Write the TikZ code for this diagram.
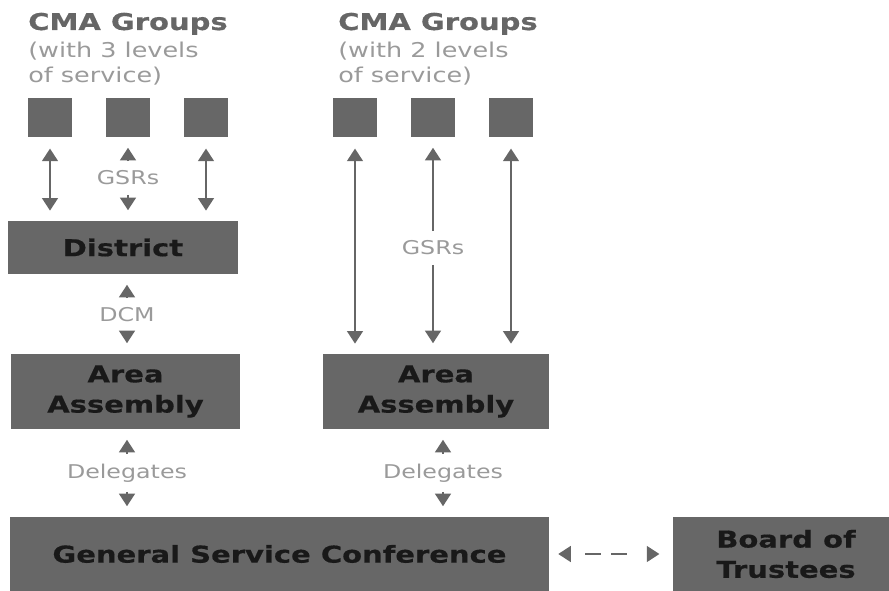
\documentclass[tikz,border=0pt]{standalone}
\usepackage{fontspec}
\setmainfont{DejaVu Sans}[FakeStretch=1.25, BoldFeatures={FakeBold=0.5}]
\usetikzlibrary{arrows.meta,positioning}
\definecolor{boxgray}{HTML}{676767}
\definecolor{linegray}{HTML}{666666}
\definecolor{textgray}{HTML}{9A9A9A}
\tikzset{
	box/.style={fill=boxgray, text=black!90, align=center, inner sep=0pt, font=\fontsize{16.5}{21.5}\selectfont\bfseries},
	group/.style={fill=boxgray, minimum width=1.1cm, minimum height=0.975cm, inner sep=0pt},
	title/.style={anchor=base west, inner sep=0pt, text=linegray, font=\fontsize{16.5}{18}\selectfont\bfseries},
	subtitle/.style={anchor=north west, inner sep=0pt, align=left, text=textgray, font=\fontsize{14.5}{17.8}\selectfont},
	lbl/.style={inner sep=1pt, text=textgray, font=\fontsize{13.5}{15}\selectfont},
	tip/.tip={Triangle[width=11pt,length=9pt]},
	twoway/.style={draw=linegray, line width=2.1pt, tip-tip, shorten <=0.28cm, shorten >=0.25cm},
	stub/.style={draw=linegray, line width=2.1pt, -tip, shorten <=0.2cm, shorten >=0.26cm}
}

\begin{document}
\begin{tikzpicture}[x=0.025cm, y=-0.025cm]
			%%%%% START %%%%%
			\useasboundingbox (0,0) rectangle (889,591);
			
			\node[title] (ttlL) at (28,30) {CMA Groups};
			\node[subtitle] (subL) at (28,42) {(with 3 levels\\of service)};
			\node[title] (ttlR) at (338,30) {CMA Groups};
			\node[subtitle] (subR) at (338,42) {(with 2 levels\\of service)};
			
			\node[group] (grpL1) at (50,117.5) {};
			\node[group] (grpL2) at (128,117.5) {};
			\node[group] (grpL3) at (206,117.5) {};
			\node[group] (grpR1) at (355,117.5) {};
			\node[group] (grpR2) at (433,117.5) {};
			\node[group] (grpR3) at (511,117.5) {};
			
			\node[box, minimum width=5.75cm, minimum height=1.325cm] (district) at (123,247.5) {District};
			\node[box, minimum width=5.725cm, minimum height=1.875cm] (areaL) at (125.5,391.5) {Area\\Assembly};
			\node[box, minimum width=5.65cm, minimum height=1.875cm] (areaR) at (436,391.5) {Area\\Assembly};
			\node[box, minimum width=13.475cm, minimum height=1.85cm] (gsc) at (279.5,554) {General Service Conference};
			\node[box, minimum width=5.65cm, minimum height=1.85cm] (board) at (786,554) {Board of\\Trustees};
			
			\node[lbl] (gsrL) at (128,178) {GSRs};
			\node[lbl] (gsrR) at (433,248) {GSRs};
			\node[lbl] (dcm) at (127,315) {DCM};
			\node[lbl] (delL) at (127,473) {Delegates};
			\node[lbl] (delR) at (443,473) {Delegates};
			
			\draw[twoway] (grpL1.south) -- (grpL1.south |- district.north);
			\draw[twoway] (grpL3.south) -- (grpL3.south |- district.north);
			\draw[stub] (gsrL) -- (gsrL |- grpL2.south);
			\draw[stub] (gsrL) -- (gsrL |- district.north);
			
			\draw[twoway] (grpR1.south) -- (grpR1.south |- areaR.north);
			\draw[twoway] (grpR3.south) -- (grpR3.south |- areaR.north);
			\draw[stub] (gsrR) -- (gsrR |- grpR2.south);
			\draw[stub] (gsrR) -- (gsrR |- areaR.north);
			
			\draw[stub] (dcm) -- (dcm |- district.south);
			\draw[stub] (dcm) -- (dcm |- areaL.north);
			
			\draw[stub] (delL) -- (delL |- areaL.south);
			\draw[stub] (delL) -- (delL |- gsc.north);
			\draw[stub] (delR) -- (delR |- areaR.south);
			\draw[stub] (delR) -- (delR |- gsc.north);
			
			\draw[twoway, dash pattern=on 0pt off 10.7pt on 11.4pt off 7.1pt on 11.4pt off 20pt, shorten <=0.22cm, shorten >=0.33cm] (gsc.east) -- (board.west);
			
			%%%%% END %%%%%
		\end{tikzpicture}
\end{document}
